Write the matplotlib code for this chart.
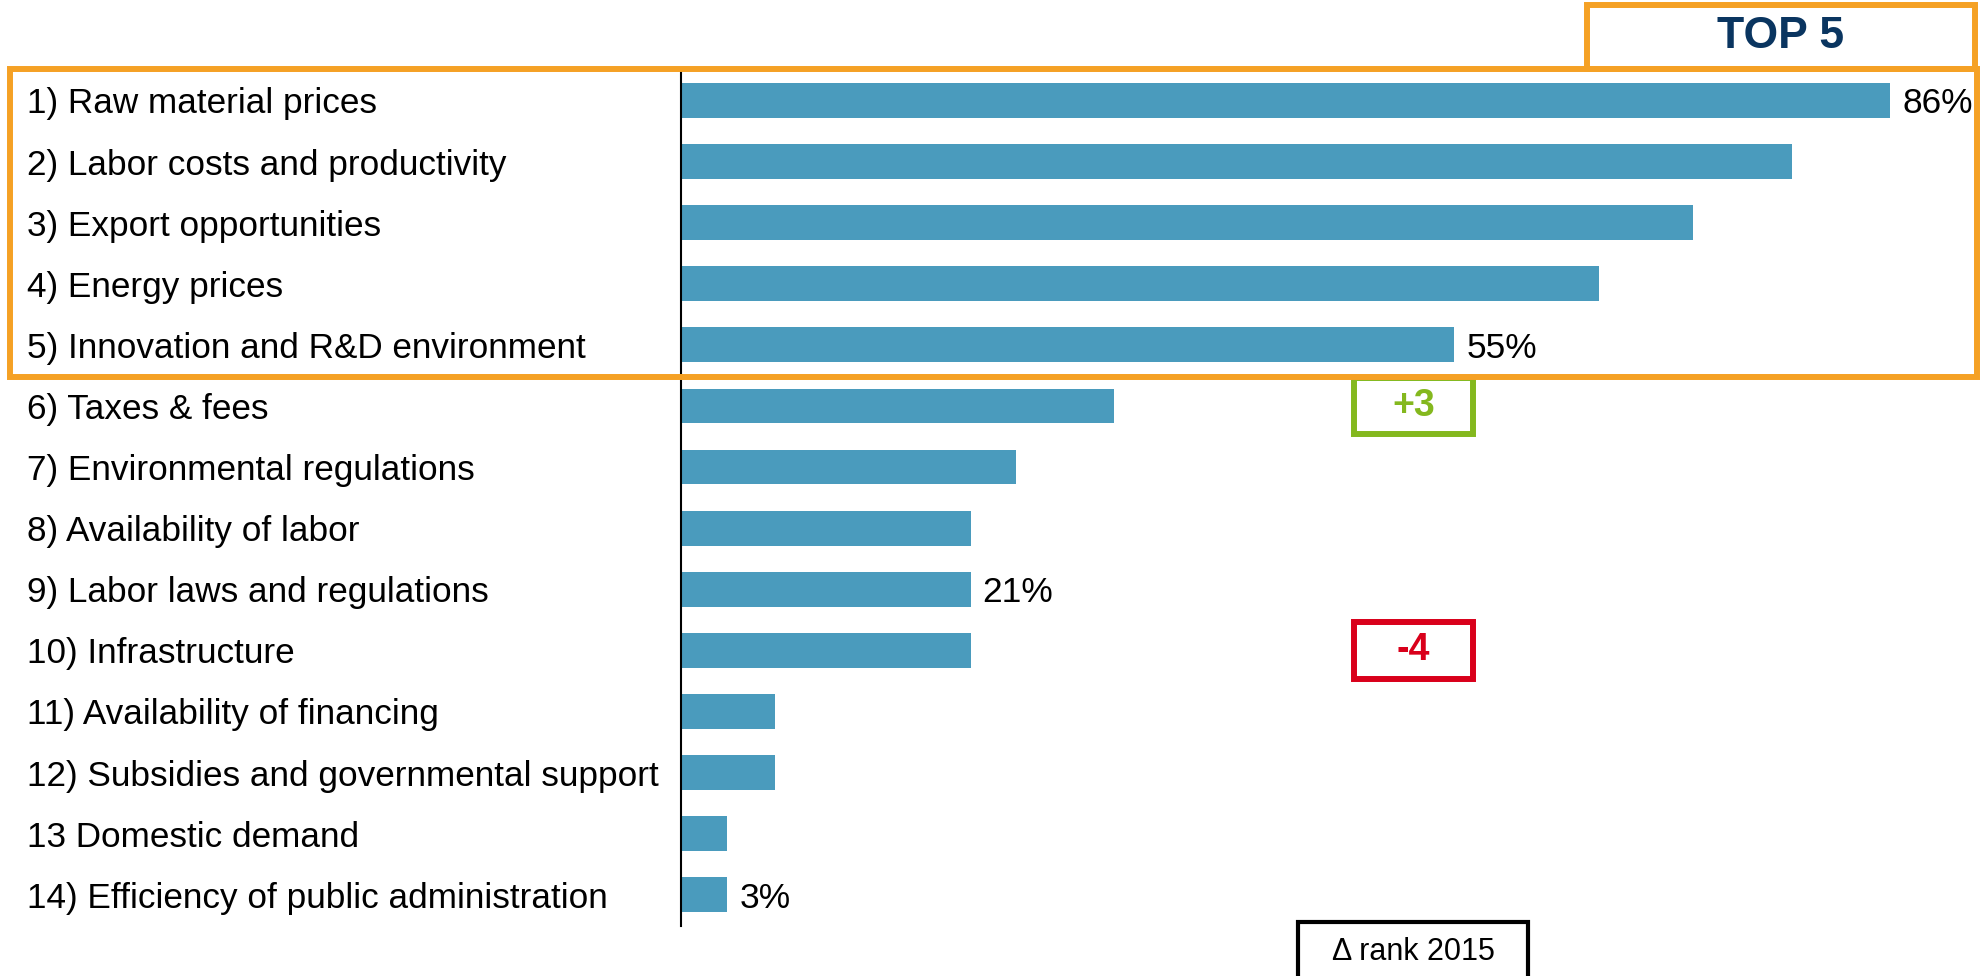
import matplotlib
matplotlib.use("Agg")
import matplotlib.pyplot as plt
from matplotlib.patches import Rectangle
from matplotlib.transforms import blended_transform_factory

categories = [
    "1) Raw material prices",
    "2) Labor costs and productivity",
    "3) Export opportunities",
    "4) Energy prices",
    "5) Innovation and R&D environment",
    "6) Taxes & fees",
    "7) Environmental regulations",
    "8) Availability of labor",
    "9) Labor laws and regulations",
    "10) Infrastructure",
    "11) Availability of financing",
    "12) Subsidies and governmental support",
    "13 Domestic demand",
    "14) Efficiency of public administration",
]
values = [86, 79, 72, 65.3, 55, 30.8, 23.8, 20.6, 20.6, 20.6, 6.7, 6.7, 3.3, 3.3]
shown_labels = [0, 4, 8, 13]
rank_rows = [5, 9]
rank_texts = ["+3", "-4"]
rank_colors = ["#84b81e", "#d9001b"]

BAR = "#4a9bbd"
ORANGE = "#f5a125"
NAVY = "#0a3560"

plt.rcParams["font.family"] = ["Liberation Sans", "DejaVu Sans"]

W, H = 1982, 976
fig = plt.figure(figsize=(W / 100, H / 100), dpi=100)


def fx(px):
    return px / W


def fy(py):
    return 1 - py / H


# axes: left spine at x=681px, spans y 72..926px
ax = fig.add_axes([fx(681), fy(926), fx(W - 681), (926 - 72) / H])
ypos = list(range(len(categories)))
ax.barh(ypos, values, height=0.57, color=BAR)
ax.set_xlim(0, (W - 681) / 14.06)
ax.set_ylim(13.512, -0.466)
for s in ["top", "right", "bottom"]:
    ax.spines[s].set_visible(False)
ax.spines["left"].set_linewidth(1.5)
ax.spines["left"].set_color("black")
ax.set_xticks([])
ax.set_yticks([])
ax.patch.set_alpha(0)

# category labels at left edge of figure
tr = blended_transform_factory(fig.transFigure, ax.transData)
for i, lab in enumerate(categories):
    ax.text(fx(27), i, lab, transform=tr, ha="left", va="center_baseline",
            fontsize=25.3, color="black", clip_on=False)

# value labels
for i in shown_labels:
    ax.text(values[i] + 0.85, i, f"{values[i]:.0f}%", ha="left",
            va="center_baseline", fontsize=25.5, color="black", clip_on=False)

# rank change boxes
for row, txt, col in zip(rank_rows, rank_texts, rank_colors):
    ax.add_patch(Rectangle((47.9, row - 0.465), 8.4, 0.93, fill=False,
                           edgecolor=col, linewidth=4.3, clip_on=False))
    ax.text(52.1, row, txt, ha="center", va="center", fontsize=27,
            fontweight="bold", color=col, clip_on=False)

# top 5 frame
fig.add_artist(Rectangle((fx(10), fy(377)), fx(1977 - 10), (377 - 69) / H,
                         fill=False, edgecolor=ORANGE, linewidth=4.3,
                         transform=fig.transFigure))
fig.add_artist(Rectangle((fx(1587), fy(69)), fx(1975 - 1587), (69 - 5) / H,
                         fill=False, edgecolor=ORANGE, linewidth=4.3,
                         transform=fig.transFigure))
fig.text(fx(1781), fy(37), "TOP 5", ha="center", va="center", fontsize=32,
         fontweight="bold", color=NAVY)

# delta rank legend box
fig.add_artist(Rectangle((fx(1298), fy(985)), fx(1528 - 1298), (985 - 922) / H,
                         fill=False, edgecolor="black", linewidth=3,
                         transform=fig.transFigure))
fig.text(fx(1413), fy(952), "\u0394 rank 2015", ha="center", va="center",
         fontsize=22, color="black")

fig.savefig("out.png", dpi=100)
